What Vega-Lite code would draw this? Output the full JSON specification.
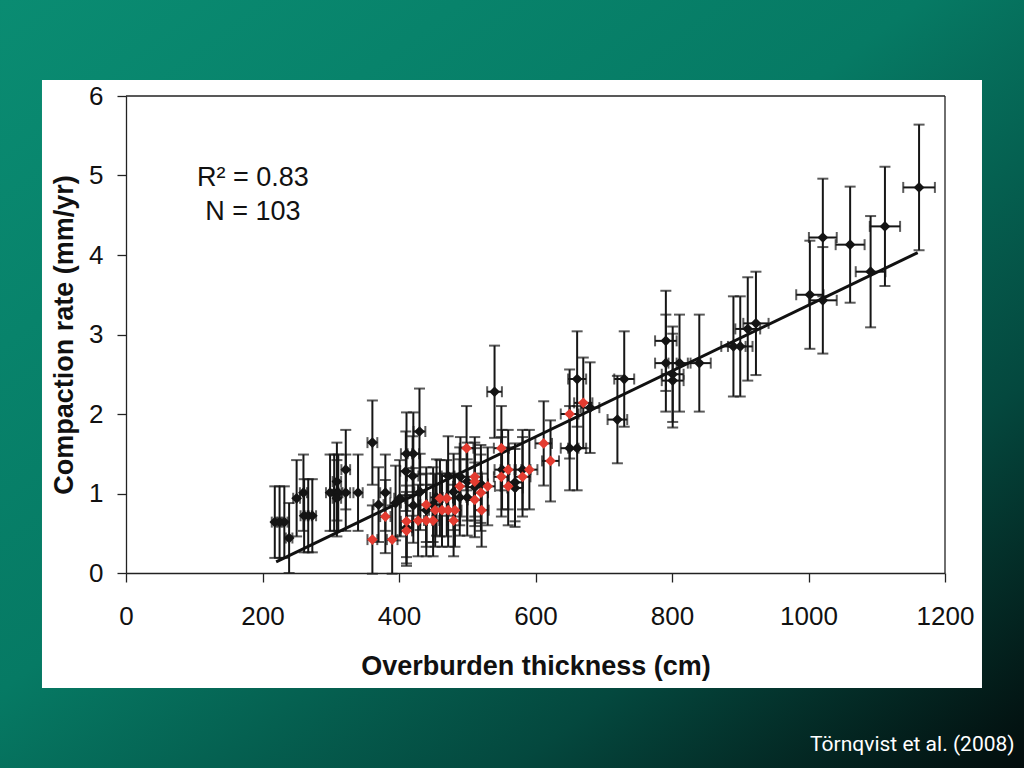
{
  "$schema": "https://vega.github.io/schema/vega-lite/v6.json",
  "width": 819,
  "height": 477,
  "autosize": {"type": "none"},
  "padding": {"left": 126, "top": 96, "right": 79, "bottom": 195},
  "background": "#05574a",
  "config": {
    "view": {"stroke": null},
    "font": "Liberation Sans",
    "axis": {
      "grid": false,
      "zindex": 2,
      "domainColor": "#222222",
      "domainWidth": 1.3,
      "tickColor": "#222222",
      "tickWidth": 1.3,
      "labelFont": "Liberation Sans",
      "labelFontSize": 26,
      "labelColor": "#111111",
      "titleFont": "Liberation Sans",
      "titleFontSize": 27,
      "titleFontWeight": "bold",
      "titleColor": "#111111"
    }
  },
  "datasets": {
    "pts": [
      {"x": 218, "y": 0.64, "xe": 4.4, "ye": 0.45, "g": "a"},
      {"x": 225, "y": 0.64, "xe": 4.5, "ye": 0.45, "g": "a"},
      {"x": 232, "y": 0.64, "xe": 4.6, "ye": 0.45, "g": "a"},
      {"x": 239, "y": 0.44, "xe": 4.8, "ye": 0.44, "g": "a"},
      {"x": 250, "y": 0.94, "xe": 5.0, "ye": 0.48, "g": "a"},
      {"x": 260, "y": 1.01, "xe": 5.2, "ye": 0.48, "g": "a"},
      {"x": 261, "y": 0.72, "xe": 5.2, "ye": 0.46, "g": "a"},
      {"x": 267, "y": 0.72, "xe": 5.3, "ye": 0.46, "g": "a"},
      {"x": 273, "y": 0.72, "xe": 5.5, "ye": 0.46, "g": "a"},
      {"x": 299, "y": 1.01, "xe": 6.0, "ye": 0.48, "g": "a"},
      {"x": 305, "y": 1.01, "xe": 6.1, "ye": 0.48, "g": "a"},
      {"x": 311, "y": 1.01, "xe": 6.2, "ye": 0.48, "g": "a"},
      {"x": 322, "y": 1.01, "xe": 6.4, "ye": 0.48, "g": "a"},
      {"x": 309, "y": 0.94, "xe": 6.2, "ye": 0.48, "g": "a"},
      {"x": 309, "y": 1.15, "xe": 6.2, "ye": 0.49, "g": "a"},
      {"x": 322, "y": 1.30, "xe": 6.4, "ye": 0.5, "g": "a"},
      {"x": 340, "y": 1.01, "xe": 6.8, "ye": 0.48, "g": "a"},
      {"x": 361, "y": 1.64, "xe": 7.2, "ye": 0.53, "g": "a"},
      {"x": 370, "y": 0.86, "xe": 7.4, "ye": 0.47, "g": "a"},
      {"x": 380, "y": 1.01, "xe": 7.6, "ye": 0.48, "g": "a"},
      {"x": 395, "y": 0.88, "xe": 7.9, "ye": 0.47, "g": "a"},
      {"x": 401, "y": 0.94, "xe": 8.0, "ye": 0.48, "g": "a"},
      {"x": 411, "y": 1.50, "xe": 8.2, "ye": 0.52, "g": "a"},
      {"x": 421, "y": 1.50, "xe": 8.4, "ye": 0.52, "g": "a"},
      {"x": 410, "y": 1.28, "xe": 8.2, "ye": 0.5, "g": "a"},
      {"x": 420, "y": 1.22, "xe": 8.4, "ye": 0.5, "g": "a"},
      {"x": 430, "y": 1.78, "xe": 8.6, "ye": 0.54, "g": "a"},
      {"x": 421, "y": 0.85, "xe": 8.4, "ye": 0.47, "g": "a"},
      {"x": 411, "y": 0.57, "xe": 8.2, "ye": 0.45, "g": "a"},
      {"x": 431, "y": 1.02, "xe": 8.6, "ye": 0.48, "g": "a"},
      {"x": 440, "y": 0.79, "xe": 8.8, "ye": 0.46, "g": "a"},
      {"x": 450, "y": 0.86, "xe": 9.0, "ye": 0.47, "g": "a"},
      {"x": 455, "y": 0.95, "xe": 9.1, "ye": 0.48, "g": "a"},
      {"x": 472, "y": 1.22, "xe": 9.4, "ye": 0.5, "g": "a"},
      {"x": 480, "y": 1.02, "xe": 9.6, "ye": 0.48, "g": "a"},
      {"x": 490, "y": 1.21, "xe": 9.8, "ye": 0.5, "g": "a"},
      {"x": 500, "y": 1.15, "xe": 10.0, "ye": 0.49, "g": "a"},
      {"x": 511, "y": 1.08, "xe": 10.2, "ye": 0.49, "g": "a"},
      {"x": 500, "y": 0.95, "xe": 10.0, "ye": 0.48, "g": "a"},
      {"x": 489, "y": 0.95, "xe": 9.8, "ye": 0.48, "g": "a"},
      {"x": 520, "y": 1.12, "xe": 10.4, "ye": 0.49, "g": "a"},
      {"x": 540, "y": 2.28, "xe": 10.8, "ye": 0.58, "g": "a"},
      {"x": 551, "y": 1.30, "xe": 11.0, "ye": 0.5, "g": "a"},
      {"x": 570, "y": 1.14, "xe": 11.4, "ye": 0.49, "g": "a"},
      {"x": 570, "y": 1.07, "xe": 11.4, "ye": 0.49, "g": "a"},
      {"x": 581, "y": 1.30, "xe": 11.6, "ye": 0.5, "g": "a"},
      {"x": 650, "y": 1.57, "xe": 13.0, "ye": 0.53, "g": "a"},
      {"x": 661, "y": 1.57, "xe": 13.2, "ye": 0.53, "g": "a"},
      {"x": 661, "y": 2.44, "xe": 13.2, "ye": 0.6, "g": "a"},
      {"x": 680, "y": 2.08, "xe": 13.6, "ye": 0.57, "g": "a"},
      {"x": 720, "y": 1.93, "xe": 14.4, "ye": 0.55, "g": "a"},
      {"x": 730, "y": 2.44, "xe": 14.6, "ye": 0.6, "g": "a"},
      {"x": 791, "y": 2.92, "xe": 15.8, "ye": 0.63, "g": "a"},
      {"x": 791, "y": 2.64, "xe": 15.8, "ye": 0.61, "g": "a"},
      {"x": 811, "y": 2.64, "xe": 16.2, "ye": 0.61, "g": "a"},
      {"x": 840, "y": 2.64, "xe": 16.8, "ye": 0.61, "g": "a"},
      {"x": 801, "y": 2.50, "xe": 16.0, "ye": 0.6, "g": "a"},
      {"x": 801, "y": 2.42, "xe": 16.0, "ye": 0.59, "g": "a"},
      {"x": 890, "y": 2.85, "xe": 17.8, "ye": 0.63, "g": "a"},
      {"x": 900, "y": 2.85, "xe": 18.0, "ye": 0.63, "g": "a"},
      {"x": 911, "y": 3.07, "xe": 18.2, "ye": 0.65, "g": "a"},
      {"x": 923, "y": 3.14, "xe": 18.5, "ye": 0.65, "g": "a"},
      {"x": 1002, "y": 3.50, "xe": 20.0, "ye": 0.68, "g": "a"},
      {"x": 1021, "y": 3.43, "xe": 20.4, "ye": 0.67, "g": "a"},
      {"x": 1021, "y": 4.22, "xe": 20.4, "ye": 0.74, "g": "a"},
      {"x": 1061, "y": 4.13, "xe": 21.2, "ye": 0.73, "g": "a"},
      {"x": 1091, "y": 3.79, "xe": 21.8, "ye": 0.7, "g": "a"},
      {"x": 1112, "y": 4.36, "xe": 22.2, "ye": 0.75, "g": "a"},
      {"x": 1162, "y": 4.85, "xe": 23.2, "ye": 0.79, "g": "a"},
      {"x": 361, "y": 0.42, "xe": 7.2, "ye": 0.43, "g": "b"},
      {"x": 390, "y": 0.42, "xe": 7.8, "ye": 0.43, "g": "b"},
      {"x": 380, "y": 0.71, "xe": 7.6, "ye": 0.46, "g": "b"},
      {"x": 411, "y": 0.65, "xe": 8.2, "ye": 0.45, "g": "b"},
      {"x": 411, "y": 0.53, "xe": 8.2, "ye": 0.44, "g": "b"},
      {"x": 428, "y": 0.66, "xe": 8.6, "ye": 0.45, "g": "b"},
      {"x": 440, "y": 0.66, "xe": 8.8, "ye": 0.45, "g": "b"},
      {"x": 450, "y": 0.66, "xe": 9.0, "ye": 0.45, "g": "b"},
      {"x": 480, "y": 0.66, "xe": 9.6, "ye": 0.45, "g": "b"},
      {"x": 440, "y": 0.86, "xe": 8.8, "ye": 0.47, "g": "b"},
      {"x": 453, "y": 0.79, "xe": 9.1, "ye": 0.46, "g": "b"},
      {"x": 463, "y": 0.79, "xe": 9.3, "ye": 0.46, "g": "b"},
      {"x": 472, "y": 0.79, "xe": 9.4, "ye": 0.46, "g": "b"},
      {"x": 482, "y": 0.79, "xe": 9.6, "ye": 0.46, "g": "b"},
      {"x": 460, "y": 0.94, "xe": 9.2, "ye": 0.48, "g": "b"},
      {"x": 470, "y": 0.94, "xe": 9.4, "ye": 0.48, "g": "b"},
      {"x": 489, "y": 1.09, "xe": 9.8, "ye": 0.49, "g": "b"},
      {"x": 499, "y": 1.57, "xe": 10.0, "ye": 0.53, "g": "b"},
      {"x": 511, "y": 1.21, "xe": 10.2, "ye": 0.5, "g": "b"},
      {"x": 511, "y": 1.15, "xe": 10.2, "ye": 0.49, "g": "b"},
      {"x": 511, "y": 0.92, "xe": 10.2, "ye": 0.47, "g": "b"},
      {"x": 520, "y": 1.01, "xe": 10.4, "ye": 0.48, "g": "b"},
      {"x": 521, "y": 0.79, "xe": 10.4, "ye": 0.46, "g": "b"},
      {"x": 530, "y": 1.09, "xe": 10.6, "ye": 0.49, "g": "b"},
      {"x": 550, "y": 1.57, "xe": 11.0, "ye": 0.53, "g": "b"},
      {"x": 550, "y": 1.21, "xe": 11.0, "ye": 0.5, "g": "b"},
      {"x": 560, "y": 1.30, "xe": 11.2, "ye": 0.5, "g": "b"},
      {"x": 560, "y": 1.09, "xe": 11.2, "ye": 0.49, "g": "b"},
      {"x": 581, "y": 1.21, "xe": 11.6, "ye": 0.5, "g": "b"},
      {"x": 591, "y": 1.30, "xe": 11.8, "ye": 0.5, "g": "b"},
      {"x": 612, "y": 1.63, "xe": 12.2, "ye": 0.53, "g": "b"},
      {"x": 622, "y": 1.41, "xe": 12.4, "ye": 0.51, "g": "b"},
      {"x": 650, "y": 2.00, "xe": 13.0, "ye": 0.56, "g": "b"},
      {"x": 670, "y": 2.14, "xe": 13.4, "ye": 0.57, "g": "b"}
    ],
    "fit": [
      {"x": 220, "y": 0.14},
      {"x": 1160, "y": 4.03}
    ]
  },
  "layer": [
    {
      "data": {"values": [{}]},
      "mark": {
        "type": "rect",
        "fill": {
          "gradient": "linear",
          "x1": 0, "y1": 0, "x2": 1, "y2": 1,
          "stops": [
            {"offset": 0, "color": "#0a8c72"},
            {"offset": 0.45, "color": "#067a64"},
            {"offset": 0.75, "color": "#04483e"},
            {"offset": 1, "color": "#030c0c"}
          ]
        }
      },
      "encoding": {
        "x": {"datum": -184.6, "type": "quantitative"},
        "x2": {"datum": 1315.8},
        "y": {"datum": 7.21, "type": "quantitative"},
        "y2": {"datum": -2.453}
      }
    },
    {
      "data": {"values": [{}]},
      "mark": {"type": "rect", "fill": "#ffffff"},
      "encoding": {
        "x": {"datum": -123.1, "type": "quantitative"},
        "x2": {"datum": 1254.2},
        "y": {"datum": 6.2, "type": "quantitative"},
        "y2": {"datum": -1.447}
      }
    },
    {
      "data": {"values": [{}]},
      "mark": {"type": "rule", "color": "#222222", "strokeWidth": 1.3},
      "encoding": {
        "x": {"datum": 0, "type": "quantitative"},
        "x2": {"datum": 1200},
        "y": {"datum": 6, "type": "quantitative"}
      }
    },
    {
      "data": {"values": [{}]},
      "mark": {"type": "rule", "color": "#222222", "strokeWidth": 1.3},
      "encoding": {
        "x": {"datum": 1200, "type": "quantitative"},
        "y": {"datum": 0, "type": "quantitative"},
        "y2": {"datum": 6}
      }
    },
    {
      "data": {"name": "pts"},
      "mark": {"type": "errorbar", "ticks": true, "thickness": 2, "size": 11, "color": "#161616"},
      "encoding": {
        "x": {"field": "x", "type": "quantitative", "title": "Overburden thickness (cm)"},
        "y": {"field": "y", "type": "quantitative", "title": "Compaction rate (mm/yr)"},
        "yError": {"field": "ye"}
      }
    },
    {
      "data": {"name": "pts"},
      "mark": {"type": "errorbar", "ticks": true, "thickness": 2, "size": 11, "color": "#161616"},
      "encoding": {
        "y": {"field": "y", "type": "quantitative", "title": "Compaction rate (mm/yr)"},
        "x": {"field": "x", "type": "quantitative", "title": "Overburden thickness (cm)"},
        "xError": {"field": "xe"}
      }
    },
    {
      "data": {"name": "fit"},
      "mark": {"type": "line", "color": "#111111", "strokeWidth": 3},
      "encoding": {
        "x": {"field": "x", "type": "quantitative", "title": "Overburden thickness (cm)"},
        "y": {"field": "y", "type": "quantitative", "title": "Compaction rate (mm/yr)"}
      }
    },
    {
      "data": {"name": "pts"},
      "mark": {"type": "point", "shape": "diamond", "filled": true, "size": 115, "opacity": 1},
      "encoding": {
        "x": {
          "field": "x", "type": "quantitative",
          "title": "Overburden thickness (cm)",
          "scale": {"domain": [0, 1200], "nice": false, "zero": false},
          "axis": {
            "values": [0, 200, 400, 600, 800, 1000, 1200],
            "format": "d",
            "tickSize": 9,
            "labelPadding": 21,
            "titlePadding": 24,
            "labelFlush": false,
            "zindex": 2
          }
        },
        "y": {
          "field": "y", "type": "quantitative",
          "title": "Compaction rate (mm/yr)",
          "scale": {"domain": [0, 6], "nice": false, "zero": false},
          "axis": {
            "values": [0, 1, 2, 3, 4, 5, 6],
            "format": "d",
            "tickSize": 9,
            "labelPadding": 14,
            "titlePadding": 10,
            "labelFlush": false,
            "zindex": 2
          }
        },
        "color": {
          "field": "g", "type": "nominal",
          "scale": {"domain": ["a", "b"], "range": ["#141414", "#e33b30"]},
          "legend": null
        },
        "order": {"field": "g"}
      }
    },
    {
      "data": {"values": [{}]},
      "mark": {"type": "text", "text": "R² = 0.83", "fontSize": 27, "font": "Liberation Sans", "color": "#111111", "align": "center", "baseline": "middle"},
      "encoding": {
        "x": {"datum": 186, "type": "quantitative"},
        "y": {"datum": 4.97, "type": "quantitative"}
      }
    },
    {
      "data": {"values": [{}]},
      "mark": {"type": "text", "text": "N = 103", "fontSize": 27, "font": "Liberation Sans", "color": "#111111", "align": "center", "baseline": "middle"},
      "encoding": {
        "x": {"datum": 186, "type": "quantitative"},
        "y": {"datum": 4.54, "type": "quantitative"}
      }
    },
    {
      "data": {"values": [{}]},
      "mark": {"type": "text", "text": "Törnqvist et al. (2008)", "fontSize": 21, "font": "Roboto", "color": "#ffffff", "align": "right", "baseline": "middle"},
      "encoding": {
        "x": {"datum": 1302, "type": "quantitative"},
        "y": {"datum": -2.16, "type": "quantitative"}
      }
    }
  ]
}
